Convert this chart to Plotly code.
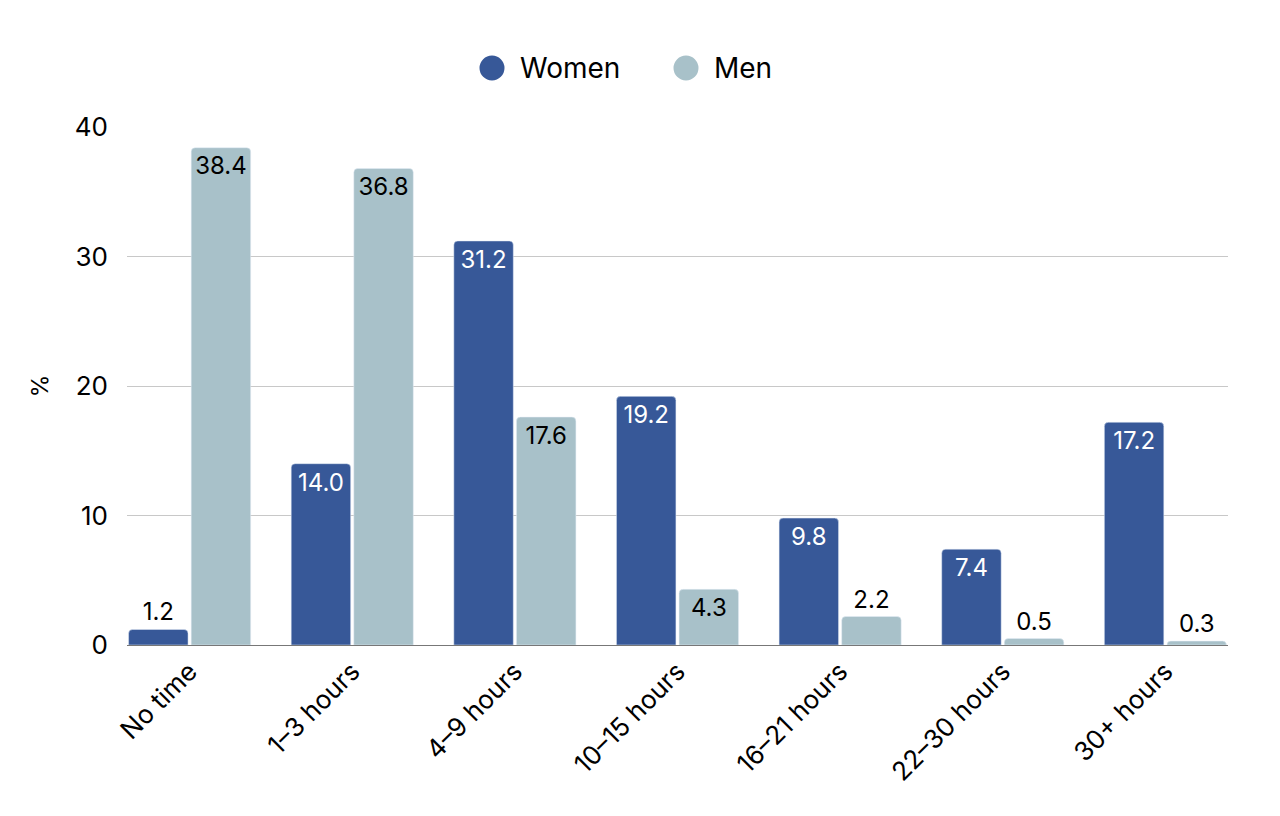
import plotly.graph_objects as go

categories = ["No time", "1–3 hours", "4–9 hours", "10–15 hours", "16–21 hours", "22–30 hours", "30+ hours"]
women = [1.2, 14.0, 31.2, 19.2, 9.8, 7.4, 17.2]
men = [38.4, 36.8, 17.6, 4.3, 2.2, 0.5, 0.3]
series_names = ["Women", "Men"]

WOMEN_COLOR = "#375898"
MEN_COLOR = "#a8c1c9"
FONT = "Inter"
LABEL_SIZE = 24
BARGAP = 0.23

# layout geometry (figure pixels)
ML, MR, MT, MB = 119, 60, 119, 179
W, H = 1280, 816
PW = W - ML - MR
PH = H - MT - MB

def px_to_paper_x(px):
    return (px - ML) / PW

def px_to_paper_y(py):
    return (H - MB - py) / PH

def positions(vals):
    return ["inside" if v > 3 else "outside" for v in vals]

fig = go.Figure()
fig.add_trace(go.Bar(
    x=categories, y=women, name=series_names[0], marker_color=WOMEN_COLOR,
    text=[f"{v:.1f}" for v in women], textposition=positions(women),
    insidetextanchor="end", insidetextfont=dict(color="white", size=LABEL_SIZE, family=FONT),
    outsidetextfont=dict(color="black", size=LABEL_SIZE, family=FONT),
    showlegend=False, cliponaxis=False,
))
fig.add_trace(go.Bar(
    x=categories, y=men, name=series_names[1], marker_color=MEN_COLOR,
    text=[f"{v:.1f}" for v in men], textposition=positions(men),
    insidetextanchor="end", insidetextfont=dict(color="black", size=LABEL_SIZE, family=FONT),
    outsidetextfont=dict(color="black", size=LABEL_SIZE, family=FONT),
    showlegend=False, cliponaxis=False,
))

# custom legend with large circle markers
legend_items = [(series_names[0], WOMEN_COLOR, 484), (series_names[1], MEN_COLOR, 678)]
LEG_Y = 60
R = 12.5
shapes, annotations = [], []
for name, col, cx in legend_items:
    shapes.append(dict(
        type="circle", xref="paper", yref="paper",
        xsizemode="pixel", ysizemode="pixel",
        xanchor=px_to_paper_x(cx), yanchor=px_to_paper_y(LEG_Y),
        x0=-R, x1=R, y0=-R, y1=R,
        fillcolor=col, line=dict(width=0),
    ))
    annotations.append(dict(
        text=name, xref="paper", yref="paper",
        x=px_to_paper_x(cx + 26), y=px_to_paper_y(LEG_Y),
        xanchor="left", yanchor="middle", showarrow=False,
        font=dict(size=28, family=FONT, color="black"),
    ))

n = len(categories)
edge = 0.5 - BARGAP / 2

fig.update_layout(
    width=W, height=H,
    margin=dict(l=ML, r=MR, t=MT, b=MB),
    paper_bgcolor="white", plot_bgcolor="white",
    font=dict(family=FONT, size=22, color="black"),
    barmode="group", bargap=BARGAP, bargroupgap=0.05,
    barcornerradius=4,
    uniformtext=dict(mode=False),
    showlegend=False,
    shapes=shapes, annotations=annotations,
    xaxis=dict(tickangle=-45, showgrid=False, showline=True, linecolor="#777777",
               linewidth=1, ticks="", tickfont=dict(size=26), automargin=False,
               range=[-edge, n - 1 + edge]),
    yaxis=dict(range=[0, 40], tickvals=[0, 10, 20, 30, 40], showgrid=True,
               gridcolor="#c8c8c8", gridwidth=1, zeroline=False, ticks="",
               tickfont=dict(size=26), ticklabelstandoff=18, automargin=False,
               title=dict(text="%", font=dict(size=23), standoff=19)),
)

fig.write_html("out.html")
